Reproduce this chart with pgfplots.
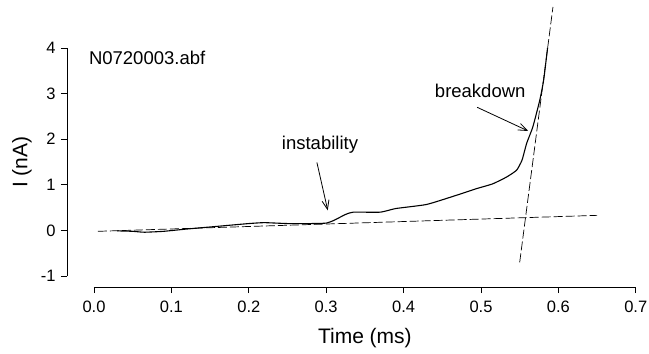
\documentclass[border=0pt]{standalone}
\usepackage{pgfplots}
\pgfplotsset{compat=1.18}
\usepackage{fontspec}
\setmainfont{Liberation Sans}
\usetikzlibrary{arrows.meta}
\begin{document}
\begin{tikzpicture}
\path[use as bounding box] (-94pt,-78pt) rectangle (555pt,276pt);
\begin{axis}[
  scale only axis, width=541.8pt, height=228pt,
  xmin=0, xmax=0.7, ymin=-1, ymax=4,
  axis x line*=bottom, axis y line*=left,
  axis x line shift=11pt, axis y line shift=27pt,
  axis line style={-, line width=0.8pt},
  tick align=outside, major tick length=6pt,
  tick style={line width=0.8pt, black},
  xtick={0,0.1,...,0.7}, ytick={-1,0,1,2,3,4},
  /pgf/number format/assume math mode=true,
  xticklabel={\fontsize{16.5}{19}\selectfont\pgfmathprintnumber[fixed,fixed zerofill,precision=1]{\tick}},
  yticklabel={\fontsize{16.5}{19}\selectfont\pgfmathprintnumber{\tick}},
  xticklabel style={yshift=-4pt},
  yticklabel style={xshift=-2pt},
  label style={font=\fontsize{21}{24}\selectfont},
  xlabel={Time (ms)}, ylabel={I (nA)},
  xlabel style={at={([yshift=-62pt]axis description cs:0.5,0)}, anchor=center},
  ylabel style={at={([xshift=-72pt]axis description cs:0,0.5)}, anchor=center},
  clip=false,
]
\addplot[black, line width=1.1pt, smooth, tension=0.3] coordinates {
(0.03,-0.01)(0.05,-0.02)(0.065,-0.04)(0.09,-0.02)(0.12,0.03)(0.16,0.09)(0.2,0.15)(0.22,0.17)(0.25,0.15)(0.28,0.15)(0.30,0.16)(0.31,0.22)(0.325,0.35)(0.335,0.40)(0.37,0.40)(0.39,0.48)(0.43,0.57)(0.47,0.78)(0.495,0.92)(0.515,1.02)(0.533,1.17)(0.546,1.32)(0.553,1.54)(0.559,1.91)(0.567,2.27)(0.576,2.86)(0.581,3.3)(0.586,4.0)
};
\addplot[black, line width=0.7pt, dash pattern=on 9pt off 3pt] coordinates {(0.005,-0.02)(0.65,0.33)};
\addplot[black, line width=0.7pt, dash pattern=on 9pt off 3pt] coordinates {(0.550,-0.70)(0.593,4.9)};
\node[anchor=west, font=\fontsize{18.5}{22}\selectfont] at (axis cs:-0.011,3.78) {N0720003.abf};
\node[font=\fontsize{18.5}{22}\selectfont] at (axis cs:0.292,1.87) {instability};
\node[font=\fontsize{18.5}{22}\selectfont] at (axis cs:0.499,3.05) {breakdown};
\draw[-{Straight Barb[length=9pt,width=7pt]}, line width=0.8pt] (axis cs:0.288,1.49) -- (axis cs:0.302,0.44);
\draw[-{Straight Barb[length=9pt,width=7pt]}, line width=0.8pt] (axis cs:0.495,2.70) -- (axis cs:0.561,2.18);
\end{axis}
\end{tikzpicture}
\end{document}
